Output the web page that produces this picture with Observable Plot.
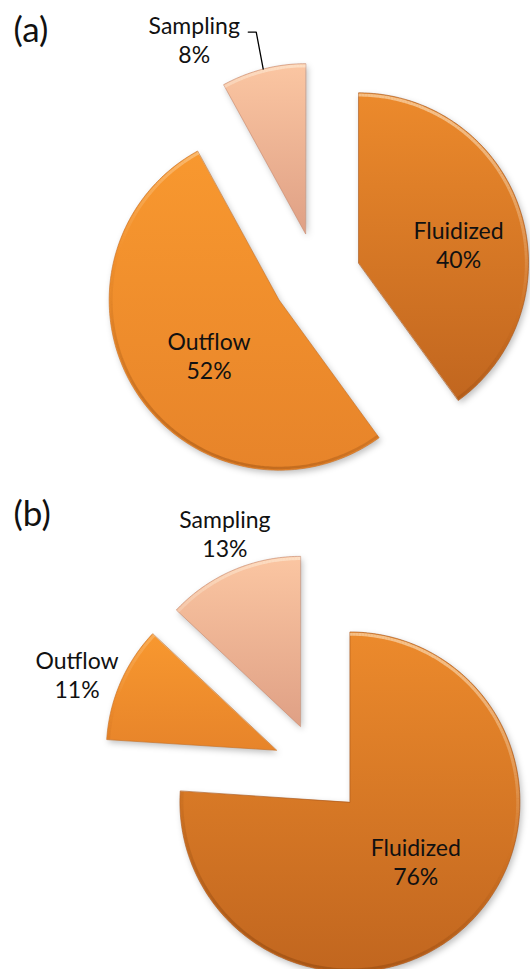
<!DOCTYPE html>
<html>
<head>
<meta charset="utf-8">
<script src="https://cdn.jsdelivr.net/npm/d3@7"></script>
<script src="https://cdn.jsdelivr.net/npm/@observablehq/plot@0.6"></script>
<style>
  html, body { margin: 0; padding: 0; background: #fff; }
  body { width: 530px; font-family: Lato, "Open Sans", sans-serif; }
  #charts svg { display: block; }
</style>
</head>
<body>
<div id="charts"></div>
<script>
// ---- data ----
const pieA_categories = ["Fluidized", "Outflow", "Sampling"];
const pieA_values = [40, 52, 8];
const pieB_categories = ["Fluidized", "Outflow", "Sampling"];
const pieB_values = [76, 11, 13];
const panelTags = ["(a)", "(b)"];

// ---- styles ----
const gradStops = {
  Fluidized: ["#ec8a2c", "#c1661f"],
  Outflow: ["#f8982f", "#e7842a"],
  Sampling: ["#fbc6a2", "#dfa085"]
};
const edgeFor = {Fluidized: "#a8561a", Outflow: "#c96f22", Sampling: "#c98c70"};
// label nudges in pixels (layout only)
const labelNudge = {
  a: {Fluidized: [3, 13], Outflow: [16, 0], Sampling: [0, 0]},
  b: {Fluidized: [-4, -15], Outflow: [-9, 6], Sampling: [7, -3]}
};

function addDefs(svg, key) {
  const defs = d3.select(svg).insert("defs", ":first-child");
  for (const [name, [c0, c1]] of Object.entries(gradStops)) {
    const g = defs.append("linearGradient").attr("id", `g-${key}-${name}`)
      .attr("x1", 0).attr("y1", 0).attr("x2", 0).attr("y2", 1);
    g.append("stop").attr("offset", 0).attr("stop-color", c0);
    g.append("stop").attr("offset", 1).attr("stop-color", c1);
  }
}

function pieChart({categories, values, tag, key, W, H, cx, cy, R, explode, tagDy, leader}) {
  const arcs = d3.pie().sort(null).value(d => d)(values);
  const pts = [];
  const rim = [];
  const labels = [];
  const leaderPts = [];
  const inset = 2.2 / R;
  arcs.forEach((a, i) => {
    const name = categories[i];
    const m = (a.startAngle + a.endAngle) / 2;
    const ox = explode * Math.sin(m), oy = explode * Math.cos(m);
    pts.push({name, x: ox, y: oy});
    const n = Math.max(2, Math.ceil((a.endAngle - a.startAngle) / (Math.PI / 180)));
    for (let k = 0; k <= n; k++) {
      const t = a.startAngle + (a.endAngle - a.startAngle) * k / n;
      pts.push({name, x: ox + Math.sin(t), y: oy + Math.cos(t)});
      if (k > 0) {
        const t0 = a.startAngle + (a.endAngle - a.startAngle) * (k - 1) / n;
        const tm = (t0 + t) / 2;
        rim.push({
          x1: ox + (1 - inset) * Math.sin(t0), y1: oy + (1 - inset) * Math.cos(t0),
          x2: ox + (1 - inset) * Math.sin(t), y2: oy + (1 - inset) * Math.cos(t),
          light: Math.max(0, Math.cos(tm - 0.3)), dark: Math.max(0, -Math.cos(tm - 0.3))
        });
      }
    }
    const frac = values[i] / d3.sum(values);
    const inside = frac >= 0.15;
    const text = `${name}\n${values[i]}%`;
    const [nx, ny] = (labelNudge[key] && labelNudge[key][name]) || [0, 0];
    let lx, ly;
    if (inside) {
      lx = ox + 0.6 * Math.sin(m); ly = oy + 0.6 * Math.cos(m);
    } else if (leader) {
      const px = ox + Math.sin(m), py = oy + Math.cos(m);
      const ex = px - 7 / R, ey = py + 37 / R;
      const fx = ex - 8 / R;
      leaderPts.push({x: px, y: py}, {x: ex, y: ey}, {x: fx, y: ey});
      lx = fx - 54 / R; ly = ey - 7 / R;
    } else {
      lx = ox + 1.22 * Math.sin(m); ly = oy + 1.22 * Math.cos(m);
    }
    labels.push({x: lx + nx / R, y: ly - ny / R, text});
  });

  const svg = Plot.plot({
    width: W,
    height: H,
    margin: 0,
    x: {domain: [-cx / R, (W - cx) / R], range: [0, W], axis: null},
    y: {domain: [-(H - cy) / R, cy / R], range: [H, 0], axis: null},
    color: {type: "identity"},
    style: {fontFamily: "Lato, 'Open Sans', sans-serif", background: "white", overflow: "visible"},
    marks: [
      Plot.line(pts, {x: "x", y: "y", z: "name", fill: "#000", fillOpacity: 0.25, stroke: "none",
        dx: 2, dy: 3, curve: "linear-closed"}),
      Plot.line(pts, {x: "x", y: "y", z: "name", fill: d => `url(#g-${key}-${d.name})`, stroke: d => edgeFor[d.name],
        strokeWidth: 0.8, strokeOpacity: 0.8, curve: "linear-closed"}),
      Plot.link(rim, {x1: "x1", y1: "y1", x2: "x2", y2: "y2", stroke: "#fff8e8", strokeOpacity: d => 0.5 * d.light,
        strokeWidth: 3}),
      Plot.link(rim, {x1: "x1", y1: "y1", x2: "x2", y2: "y2", stroke: "#6b3208", strokeOpacity: d => 0.3 * d.dark,
        strokeWidth: 2.5}),
      Plot.line(leaderPts, {x: "x", y: "y", stroke: "#000", strokeWidth: 1.3, curve: "linear"}),
      Plot.text(labels, {x: "x", y: "y", text: "text", fontSize: 23, lineHeight: 1.27,
        lineAnchor: "middle", textAnchor: "middle", fill: "#111"}),
      Plot.text([tag], {text: d => d, frameAnchor: "top-left", dx: 13, dy: tagDy, fontSize: 35,
        lineAnchor: "top", textAnchor: "start", fill: "#111"})
    ]
  });
  addDefs(svg, key);
  const lineGroups = svg.querySelectorAll('g[aria-label="line"]');
  if (lineGroups.length) d3.select(lineGroups[0]).style("filter", "blur(3px)");
  return svg;
}

const root = document.getElementById("charts");
root.appendChild(pieChart({categories: pieA_categories, values: pieA_values, tag: panelTags[0], key: "a",
  W: 530, H: 480, cx: 316, cy: 276, R: 170, explode: 0.26, tagDy: 17, leader: true}));
root.appendChild(pieChart({categories: pieB_categories, values: pieB_values, tag: panelTags[1], key: "b",
  W: 530, H: 489, cx: 318, cy: 288, R: 170, explode: 0.27, tagDy: 21, leader: false}));
</script>
</body>
</html>
